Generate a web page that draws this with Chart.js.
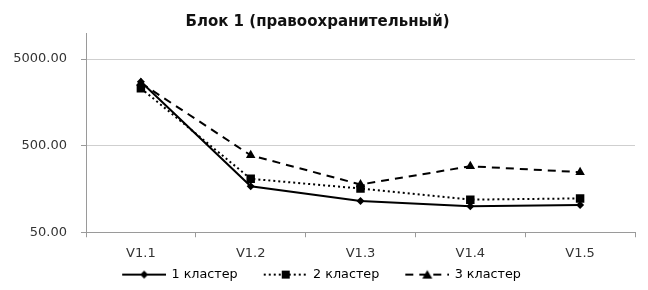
<!DOCTYPE html>
<html>
<head>
<meta charset="utf-8">
<script src="https://cdn.jsdelivr.net/npm/chart.js@4"></script>
<style>
  html, body { margin: 0; padding: 0; background: #fff; }
  #wrap { width: 648px; height: 290px; }
</style>
</head>
<body>
<div id="wrap"><canvas id="lineChart" width="648" height="290"></canvas></div>
<script>
const categories = ['V1.1', 'V1.2', 'V1.3', 'V1.4', 'V1.5'];
const cluster1 = [2740, 170, 115, 100, 103];
const cluster2 = [2300, 207, 160, 119, 123];
const cluster3 = [2650, 387, 178, 289, 247];
const seriesNames = ['1 кластер', '2 кластер', '3 кластер'];
const yTicks = [50, 500, 5000];

const FONT = 'DejaVu Sans';

// легенда: линия + маркер, слева пустое место (отступ между элементами)
function legendSample(dash, marker) {
    const c = document.createElement('canvas');
    c.width = 65; c.height = 12;
    const g = c.getContext('2d');
    const x0 = 21, x1 = 65, mx = 43;
    g.strokeStyle = '#000';
    g.fillStyle = '#000';
    g.lineWidth = 2;
    g.setLineDash(dash);
    g.beginPath();
    g.moveTo(x0, 6); g.lineTo(x1, 6);
    g.stroke();
    g.setLineDash([]);
    g.beginPath();
    if (marker === 'rectRot') {
        g.moveTo(mx, 2); g.lineTo(mx + 4, 6); g.lineTo(mx, 10); g.lineTo(mx - 4, 6);
    } else if (marker === 'rect') {
        g.rect(mx - 4, 2, 8, 8);
    } else {
        g.moveTo(mx, 1.5); g.lineTo(mx + 5, 10); g.lineTo(mx - 5, 10);
    }
    g.closePath();
    g.fill();
    return c;
}

const styles = [
    { data: cluster1, dash: [], marker: 'rectRot', radius: 4 },
    { data: cluster2, dash: [2, 3], marker: 'rect', radius: 6 },
    { data: cluster3, dash: [8, 6], marker: 'triangle', radius: 5.5 }
];

const datasets = styles.map((s, i) => ({
    label: seriesNames[i],
    data: s.data,
    borderColor: '#000',
    backgroundColor: '#000',
    borderWidth: 2,
    borderDash: s.dash,
    pointStyle: s.marker,
    pointRadius: s.radius,
    pointBorderWidth: 0,
    pointBackgroundColor: '#000',
    tension: 0,
    legendImg: legendSample(s.dash, s.marker)
}));

// сдвиг легенды чуть влево (пустой отступ слева у первого элемента)
const legendShift = {
    id: 'legendShift',
    afterLayout(chart) {
        chart.legend.left -= 6;
        chart.legend.right -= 6;
    }
};

const ctx = document.getElementById('lineChart').getContext('2d');
new Chart(ctx, {
    type: 'line',
    data: { labels: categories, datasets: datasets },
    plugins: [legendShift],
    options: {
        responsive: false,
        animation: false,
        layout: { padding: { left: 0, right: 13, top: 0, bottom: -1 } },
        plugins: {
            title: {
                display: true,
                text: 'Блок 1 (правоохранительный)',
                color: '#111',
                font: { family: FONT, size: 15, weight: 'bold' },
                padding: { top: 13, bottom: 2 }
            },
            legend: {
                position: 'bottom',
                labels: {
                    usePointStyle: true,
                    pointStyleWidth: 63,
                    padding: 6,
                    color: '#222',
                    font: { family: FONT, size: 12.75 },
                    generateLabels: chart => chart.data.datasets.map((ds, i) => ({
                        text: ds.label,
                        pointStyle: ds.legendImg,
                        fillStyle: '#000',
                        strokeStyle: '#000',
                        lineWidth: 0,
                        datasetIndex: i
                    }))
                }
            },
            tooltip: { enabled: false }
        },
        scales: {
            x: {
                offset: true,
                grid: {
                    offset: true,
                    drawOnChartArea: false,
                    drawTicks: true,
                    tickLength: 5,
                    color: '#9a9a9a'
                },
                border: { color: '#9a9a9a', width: 1 },
                ticks: {
                    color: '#333',
                    font: { family: FONT, size: 13 },
                    padding: 9,
                    maxRotation: 0
                },
                afterFit: scale => { scale.height = 30; }
            },
            y: {
                type: 'logarithmic',
                min: 50,
                max: 10000,
                afterBuildTicks: scale => {
                    scale.ticks = yTicks.map(v => ({ value: v }));
                },
                grid: {
                    color: '#cfcfcf',
                    tickColor: '#9a9a9a',
                    tickLength: 5
                },
                border: { color: '#9a9a9a', width: 1 },
                ticks: {
                    color: '#333',
                    font: { family: FONT, size: 13 },
                    padding: 14,
                    callback: v => Number(v).toFixed(2)
                },
                afterFit: scale => { scale.width = 86; }
            }
        }
    }
});
</script>
</body>
</html>
